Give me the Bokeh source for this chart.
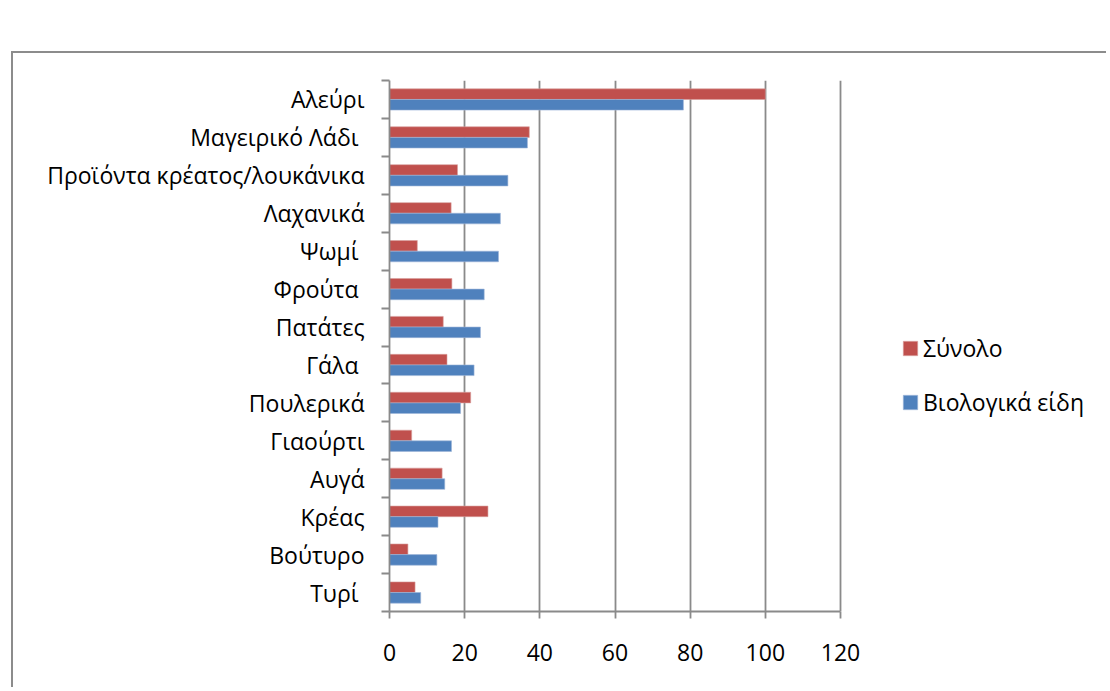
from bokeh.plotting import figure
from bokeh.models import (ColumnDataSource, Range1d, LinearAxis,
                          FixedTicker, Legend, LegendItem)
from bokeh.transform import dodge
from bokeh.embed import file_html
from bokeh.resources import INLINE

categories = ["Αλεύρι", "Μαγειρικό Λάδι ", "Προϊόντα κρέατος/λουκάνικα", "Λαχανικά",
              "Ψωμί ", "Φρούτα ", "Πατάτες", "Γάλα ", "Πουλερικά", "Γιαούρτι",
              "Αυγά", "Κρέας", "Βούτυρο", "Τυρί "]
synolo = [100, 37.2, 18.1, 16.4, 7.4, 16.6, 14.3, 15.3, 21.6, 5.9, 14.0, 26.2, 4.9, 6.8]
viologika = [78.2, 36.7, 31.5, 29.5, 29.0, 25.2, 24.2, 22.5, 18.9, 16.5, 14.7, 12.9, 12.6, 8.3]
series_names = ["Σύνολο", "Βιολογικά είδη"]
x_ticks = [0, 20, 40, 60, 80, 100, 120]

RED = "#C0504D"
BLUE = "#4F81BD"
GRAY = "#8a8a8a"
FONT = "Open Sans"

n = len(categories)
# slot position of each category (first category at the top)
slot = [n - 1 - i + 0.5 for i in range(n)]
src = ColumnDataSource(dict(cat=categories, slot=slot, synolo=synolo, viologika=viologika))

W, H = 1095, 636
LEFT, RIGHT, TOP, BOTTOM = 376, 7, 27, 78
PLOT_W = 451  # pixel width of the 0..120 value axis
frame_w = W - LEFT - RIGHT
x_end = x_ticks[-1] * frame_w / PLOT_W  # frame extends right to hold the legend

p = figure(width=W, height=H,
           x_range=Range1d(0, x_end), y_range=Range1d(0, n),
           y_axis_location=None, output_backend="svg", toolbar_location=None,
           min_border_left=LEFT, min_border_right=RIGHT, min_border_top=TOP,
           min_border_bottom=BOTTOM)
p.styles = {"margin-left": "11px", "margin-top": "51px",
            "border-left": "2px solid #8c8c8c", "border-top": "2px solid #8c8c8c"}
p.outline_line_color = None
p.background_fill_color = "white"
p.border_fill_color = "white"

r1 = p.hbar(y=dodge("slot", 0.14), right="synolo", left=0, height=0.28,
            source=src, fill_color=RED, line_color="#d9a09e", line_width=0.6)
r2 = p.hbar(y=dodge("slot", -0.14), right="viologika", left=0, height=0.28,
            source=src, fill_color=BLUE, line_color="#9db6d8", line_width=0.6)

# x axis
xa = p.xaxis[0]
xa.ticker = FixedTicker(ticks=x_ticks)
xa.bounds = (x_ticks[0], x_ticks[-1])
xa.axis_line_color = GRAY
xa.axis_line_width = 1.8
xa.major_tick_line_color = GRAY
xa.major_tick_line_width = 1.8
xa.major_tick_in = 0
xa.major_tick_out = 7
xa.minor_tick_line_color = None
xa.major_label_text_font = FONT
xa.major_label_text_font_size = "23px"
xa.major_label_text_color = "black"
xa.major_label_standoff = 25

p.xgrid.ticker = FixedTicker(ticks=x_ticks)
p.xgrid.grid_line_color = GRAY
p.xgrid.grid_line_width = 1.8
p.ygrid.grid_line_color = None

# y axis: labels at category centres, tick marks at category boundaries
ya = LinearAxis(ticker=FixedTicker(ticks=slot, minor_ticks=list(range(n + 1))))
ya.major_label_overrides = {c: name for c, name in zip(slot, categories)}
ya.axis_line_color = GRAY
ya.axis_line_width = 1.8
ya.major_tick_line_color = None
ya.major_tick_in = 0
ya.major_tick_out = 0
ya.minor_tick_line_color = GRAY
ya.minor_tick_line_width = 1.8
ya.minor_tick_in = 0
ya.minor_tick_out = 8
ya.major_label_text_font = FONT
ya.major_label_text_font_size = "23px"
ya.major_label_text_color = "black"
ya.major_label_standoff = 17
p.add_layout(ya, "left")

legend = Legend(items=[LegendItem(label=series_names[0], renderers=[r1]),
                       LegendItem(label=series_names[1], renderers=[r2])],
                location=(512, 193), orientation="vertical",
                padding=0, margin=0, spacing=22,
                glyph_width=18, glyph_height=18, label_standoff=4,
                label_text_font=FONT, label_text_font_size="23px",
                label_text_color="black",
                border_line_color=None, background_fill_alpha=0)
p.add_layout(legend)

open("out.html", "w").write(file_html(p, INLINE))
